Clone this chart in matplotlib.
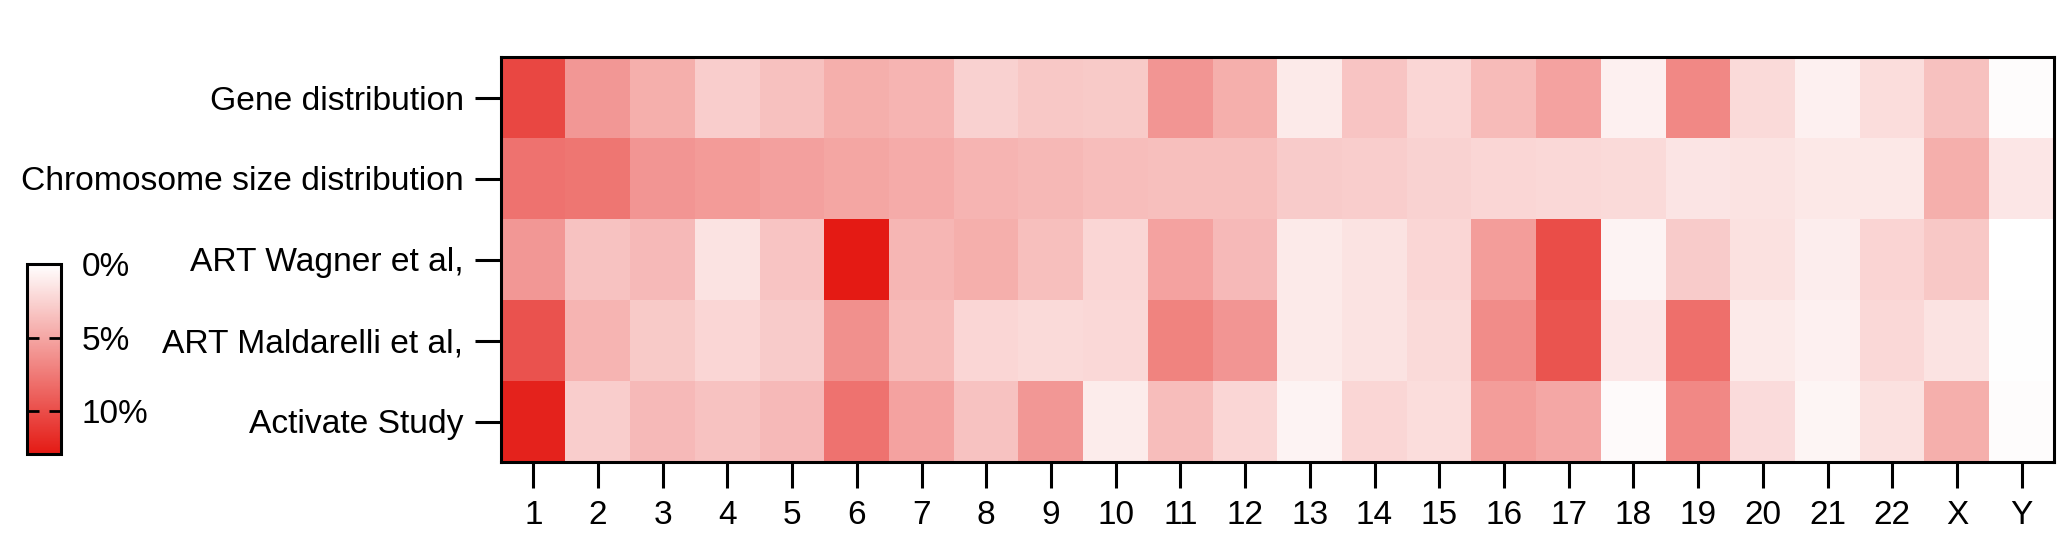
import numpy as np
import matplotlib
matplotlib.use("Agg")
import matplotlib.pyplot as plt
from matplotlib.colors import LinearSegmentedColormap

plt.rcParams['font.family'] = ['Liberation Sans', 'DejaVu Sans']

chromosomes = [str(i) for i in range(1, 23)] + ['X', 'Y']
studies = ['Gene distribution', 'Chromosome size distribution',
           'ART Wagner et al,', 'ART Maldarelli et al,', 'Activate Study']

gene_distribution = [10.3, 5.8, 4.5, 2.8, 3.5, 4.5, 4.2, 2.6, 3.1, 3.0, 5.9, 4.5,
                     1.2, 3.3, 2.3, 3.8, 5.2, 0.85, 6.7, 2.1, 0.85, 1.9, 3.5, 0.2]
chromosome_size = [7.9, 7.7, 5.9, 5.6, 5.3, 5.0, 4.7, 4.2, 4.0, 3.7, 3.6, 3.6,
                   2.9, 2.8, 2.5, 2.3, 2.2, 2.1, 1.5, 1.6, 1.3, 1.3, 4.5, 1.4]
art_wagner = [5.8, 3.4, 3.9, 1.6, 3.3, 12.9, 4.1, 4.5, 3.6, 2.3, 5.2, 3.9,
              1.2, 1.6, 2.3, 5.5, 10.0, 0.7, 2.9, 1.7, 1.0, 2.4, 3.1, 0.0]
art_maldarelli = [9.7, 4.2, 3.0, 2.3, 2.9, 6.2, 3.8, 2.3, 2.1, 2.2, 7.0, 5.9,
                  1.2, 1.6, 2.1, 6.5, 9.6, 1.35, 8.1, 1.2, 0.85, 2.2, 1.6, 0.1]
activate_study = [12.4, 2.8, 3.9, 3.4, 3.9, 7.9, 5.2, 3.4, 5.8, 1.1, 3.7, 2.3,
                  0.7, 2.3, 1.9, 5.5, 4.9, 0.3, 6.7, 2.0, 0.6, 1.7, 4.5, 0.2]

cbar_ticks = [0, 5, 10]
cbar_ticklabels = ['0%', '5%', '10%']

data = np.array([gene_distribution, chromosome_size, art_wagner,
                 art_maldarelli, activate_study])

cmap = LinearSegmentedColormap.from_list('wr', ['#ffffff', '#e41a14'])

W, H = 2059, 558
fig = plt.figure(figsize=(W / 100, H / 100), dpi=100)
ax = fig.add_axes([501 / W, 1 - 462 / H, (2054 - 501) / W, (462 - 57) / H])
cax = fig.add_axes([27 / W, 1 - 454 / H, (61 - 27) / W, (454 - 264) / H])

im = ax.imshow(data, cmap=cmap, vmin=0, vmax=12.9, aspect='auto',
               interpolation='nearest')
ax.set_xticks(np.arange(len(chromosomes)))
ax.set_xticklabels(chromosomes, fontsize=24)
ax.set_yticks(np.arange(len(studies)))
ax.set_yticklabels(studies, fontsize=24.2)
ax.tick_params(axis='both', length=19, width=2.2, color='black')
ax.tick_params(axis='y', pad=8)
ax.tick_params(axis='x', pad=8)
for s in ax.spines.values():
    s.set_linewidth(2.2)

cb = fig.colorbar(im, cax=cax, ticks=cbar_ticks)
cb.ax.set_yticklabels(cbar_ticklabels, fontsize=24)
cb.ax.invert_yaxis()
cb.outline.set_linewidth(2.2)
cb.ax.tick_params(axis='y', direction='in', left=True, right=True,
                  labelleft=False, labelright=True, length=8.5, width=2.0, pad=15)

fig.savefig('out.png', dpi=100)
